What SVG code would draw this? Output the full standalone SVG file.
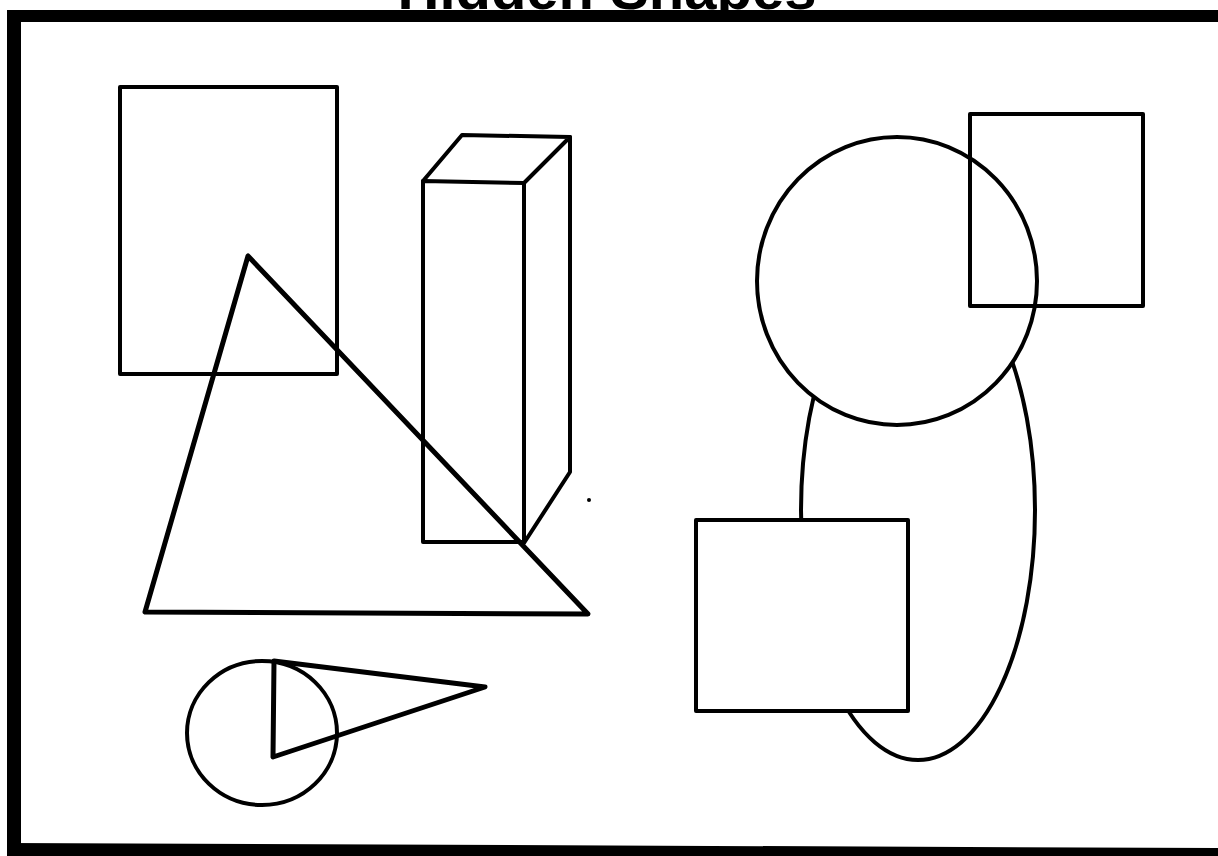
<svg xmlns="http://www.w3.org/2000/svg" width="1218" height="856" viewBox="0 0 1218 856">
<style>
.s{fill:none;stroke:#000;stroke-width:4;stroke-linejoin:round;stroke-linecap:round}
.t{stroke-width:5}
.w{fill:#fff}
.title{font-family:"Liberation Sans",Arial,sans-serif;font-weight:bold;font-size:58px;fill:#000}
</style>
<rect width="1218" height="856" fill="#fff"/>
<text class="title" x="607" y="9" text-anchor="middle">Hidden Shapes</text>
<g id="frame" fill="#000">
<rect x="7" y="10" width="1211" height="12"/>
<rect x="7" y="10" width="14" height="846"/>
<polygon points="7,843 1218,848 1218,856 7,856"/>
</g>
<g id="rect-left"><rect class="s" x="120" y="87" width="217" height="287"/></g>
<g id="prism">
<path class="s" d="M423,181 L524,183 L524,542 L423,542 Z"/>
<path class="s" d="M423,181 L462,135 L570,137 L524,183"/>
<path class="s" d="M570,137 L570,472 L524,543"/>
</g>
<g id="triangle-big"><polygon class="s t" points="248,256 145,612 588,614"/></g>
<g id="dot"><circle cx="589" cy="500" r="2" fill="#000"/></g>
<g id="ellipse-tall"><ellipse class="s" cx="918" cy="510" rx="117" ry="250"/></g>
<g id="circle-big"><ellipse class="s w" cx="897" cy="281" rx="140" ry="144"/></g>
<g id="square-top"><rect class="s" x="970" y="114" width="173" height="192"/></g>
<g id="square-low"><rect class="s w" x="696" y="520" width="212" height="191"/></g>
<g id="circle-small"><ellipse class="s" cx="262" cy="733" rx="75" ry="72"/></g>
<g id="triangle-small"><polygon class="s t" points="274,661 485,687 273,757"/></g>
<g id="connectors"/>
</svg>
